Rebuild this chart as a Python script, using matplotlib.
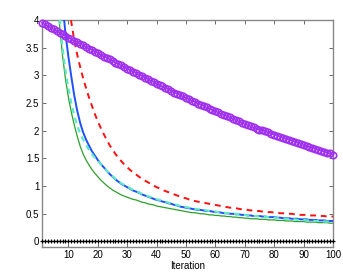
import matplotlib
matplotlib.use("Agg")
import matplotlib.pyplot as plt

iters = list(range(1, 101))

purple = [3.95, 3.92, 3.89, 3.86, 3.83, 3.80, 3.77, 3.74, 3.71, 3.68,
          3.65, 3.62, 3.60, 3.57, 3.54, 3.51, 3.48, 3.46, 3.43, 3.40,
          3.37, 3.34, 3.32, 3.29, 3.26, 3.23, 3.20, 3.18, 3.15, 3.12,
          3.09, 3.07, 3.04, 3.01, 2.99, 2.96, 2.93, 2.90, 2.88, 2.85,
          2.82, 2.80, 2.77, 2.75, 2.72, 2.69, 2.67, 2.64, 2.62, 2.59,
          2.57, 2.54, 2.52, 2.49, 2.47, 2.45, 2.42, 2.40, 2.37, 2.35,
          2.33, 2.30, 2.28, 2.26, 2.24, 2.21, 2.19, 2.17, 2.14, 2.12,
          2.10, 2.08, 2.06, 2.04, 2.02, 2.01, 1.99, 1.97, 1.95, 1.93,
          1.91, 1.89, 1.87, 1.85, 1.84, 1.82, 1.80, 1.78, 1.76, 1.74,
          1.72, 1.71, 1.69, 1.67, 1.65, 1.64, 1.62, 1.60, 1.59, 1.57]

green = [30, 15, 10, 7, 5.5, 4.4, 3.9, 3.35, 2.93, 2.6,
         2.33, 2.1, 1.9, 1.72, 1.58, 1.47, 1.38, 1.30, 1.23, 1.17,
         1.11, 1.06, 1.01, 0.97, 0.93, 0.90, 0.87, 0.84, 0.82, 0.80,
         0.78, 0.76, 0.75, 0.73, 0.71, 0.70, 0.68, 0.67, 0.66, 0.64,
         0.63, 0.62, 0.61, 0.60, 0.59, 0.58, 0.57, 0.56, 0.55, 0.54,
         0.53, 0.52, 0.52, 0.51, 0.50, 0.50, 0.49, 0.48, 0.48, 0.47,
         0.47, 0.46, 0.46, 0.45, 0.45, 0.44, 0.44, 0.43, 0.43, 0.42,
         0.42, 0.41, 0.41, 0.41, 0.40, 0.40, 0.40, 0.39, 0.39, 0.39,
         0.38, 0.38, 0.38, 0.37, 0.37, 0.37, 0.36, 0.36, 0.36, 0.36,
         0.35, 0.35, 0.35, 0.35, 0.34, 0.34, 0.34, 0.34, 0.33, 0.33]

blue = [40, 20, 13, 9.5, 7.5, 6, 5, 4.3, 3.75, 3.33,
        2.97, 2.63, 2.36, 2.14, 1.97, 1.84, 1.73, 1.63, 1.55, 1.47,
        1.40, 1.34, 1.28, 1.22, 1.17, 1.12, 1.08, 1.04, 1.01, 0.98,
        0.95, 0.92, 0.90, 0.88, 0.85, 0.83, 0.81, 0.79, 0.77, 0.75,
        0.74, 0.72, 0.71, 0.69, 0.68, 0.66, 0.65, 0.63, 0.62, 0.61,
        0.60, 0.59, 0.58, 0.57, 0.57, 0.56, 0.55, 0.55, 0.54, 0.53,
        0.53, 0.52, 0.51, 0.51, 0.50, 0.50, 0.49, 0.49, 0.48, 0.48,
        0.47, 0.47, 0.46, 0.46, 0.46, 0.45, 0.45, 0.44, 0.44, 0.44,
        0.43, 0.43, 0.42, 0.42, 0.42, 0.41, 0.41, 0.41, 0.40, 0.40,
        0.40, 0.39, 0.39, 0.39, 0.38, 0.38, 0.38, 0.37, 0.37, 0.37]

cyan = [35, 17, 11, 8, 6.2, 5, 4.05, 3.5, 3.08, 2.76,
        2.49, 2.27, 2.09, 1.95, 1.84, 1.74, 1.66, 1.58, 1.51, 1.45,
        1.40, 1.34, 1.28, 1.23, 1.18, 1.13, 1.09, 1.05, 1.02, 0.99,
        0.96, 0.93, 0.91, 0.89, 0.86, 0.84, 0.82, 0.80, 0.78, 0.76,
        0.75, 0.73, 0.72, 0.70, 0.69, 0.67, 0.66, 0.64, 0.63, 0.62,
        0.61, 0.60, 0.59, 0.58, 0.58, 0.57, 0.56, 0.55, 0.55, 0.54,
        0.53, 0.53, 0.52, 0.51, 0.51, 0.50, 0.50, 0.49, 0.49, 0.48,
        0.47, 0.47, 0.46, 0.46, 0.45, 0.45, 0.44, 0.44, 0.43, 0.43,
        0.42, 0.42, 0.41, 0.41, 0.41, 0.40, 0.40, 0.39, 0.39, 0.39,
        0.38, 0.38, 0.38, 0.37, 0.37, 0.37, 0.36, 0.36, 0.36, 0.36]

red = [60, 30, 20, 14, 11, 8.5, 7, 5.8, 5, 4.4,
       3.95, 3.63, 3.37, 3.15, 2.95, 2.77, 2.60, 2.45, 2.30, 2.17,
       2.05, 1.94, 1.84, 1.74, 1.66, 1.58, 1.51, 1.45, 1.39, 1.34,
       1.29, 1.25, 1.21, 1.17, 1.13, 1.10, 1.07, 1.04, 1.01, 0.98,
       0.96, 0.93, 0.91, 0.89, 0.87, 0.85, 0.83, 0.81, 0.79, 0.78,
       0.76, 0.75, 0.73, 0.72, 0.71, 0.70, 0.69, 0.68, 0.67, 0.66,
       0.65, 0.64, 0.63, 0.62, 0.61, 0.61, 0.60, 0.59, 0.58, 0.58,
       0.57, 0.56, 0.56, 0.55, 0.55, 0.54, 0.54, 0.53, 0.53, 0.52,
       0.52, 0.51, 0.51, 0.50, 0.50, 0.50, 0.49, 0.49, 0.48, 0.48,
       0.48, 0.47, 0.47, 0.47, 0.46, 0.46, 0.46, 0.45, 0.45, 0.45]

black = [0.0] * len(iters)

xticks = [10, 20, 30, 40, 50, 60, 70, 80, 90, 100]
yticks = [0, 0.5, 1, 1.5, 2, 2.5, 3, 3.5, 4]
ytick_labels = ["0", "0.5", "1", "1.5", "2", "2.5", "3", "3.5", "4"]

plt.rcParams['font.family'] = ['Liberation Sans', 'DejaVu Sans']

fig = plt.figure(figsize=(3.43, 2.73), dpi=100)
ax = fig.add_axes([0.1224, 0.0952, 0.8484, 0.8315])

ax.plot(iters, green, color='#2ca02c', lw=0.9, zorder=2)
ax.plot(iters, blue, color='#1f4fff', lw=1.4, zorder=3)
ax.plot(iters, cyan, color='#5fe8c8', lw=1.6, ls=(0, (2.5, 2)), zorder=4)
ax.plot(iters, red, color='#ff1010', lw=1.4, ls=(0, (3, 2.5)), zorder=4)
ax.plot(iters, black, color='black', lw=1.0, marker='+', ms=3.5, mew=0.8, zorder=5, clip_on=False)
ax.plot(iters, purple, color='#a030f0', lw=1.2, marker='o', ms=4.6, mfc='none', mec='#a030f0', mew=1.2, zorder=6, clip_on=False)

ax.set_xlim(1, 100)
ax.set_ylim(-0.1, 4)
ax.set_xticks(xticks)
ax.set_yticks(yticks)
ax.set_yticklabels(ytick_labels)
ax.tick_params(direction='in', length=3, width=0.6, colors='#555555', labelcolor='black',
               labelsize=7, top=True, right=True, pad=2)
for s in ax.spines.values():
    s.set_color('#888888')
    s.set_linewidth(1.0)
ax.set_xlabel('Iteration', fontsize=7, labelpad=1)

fig.savefig('out.png', dpi=100)
